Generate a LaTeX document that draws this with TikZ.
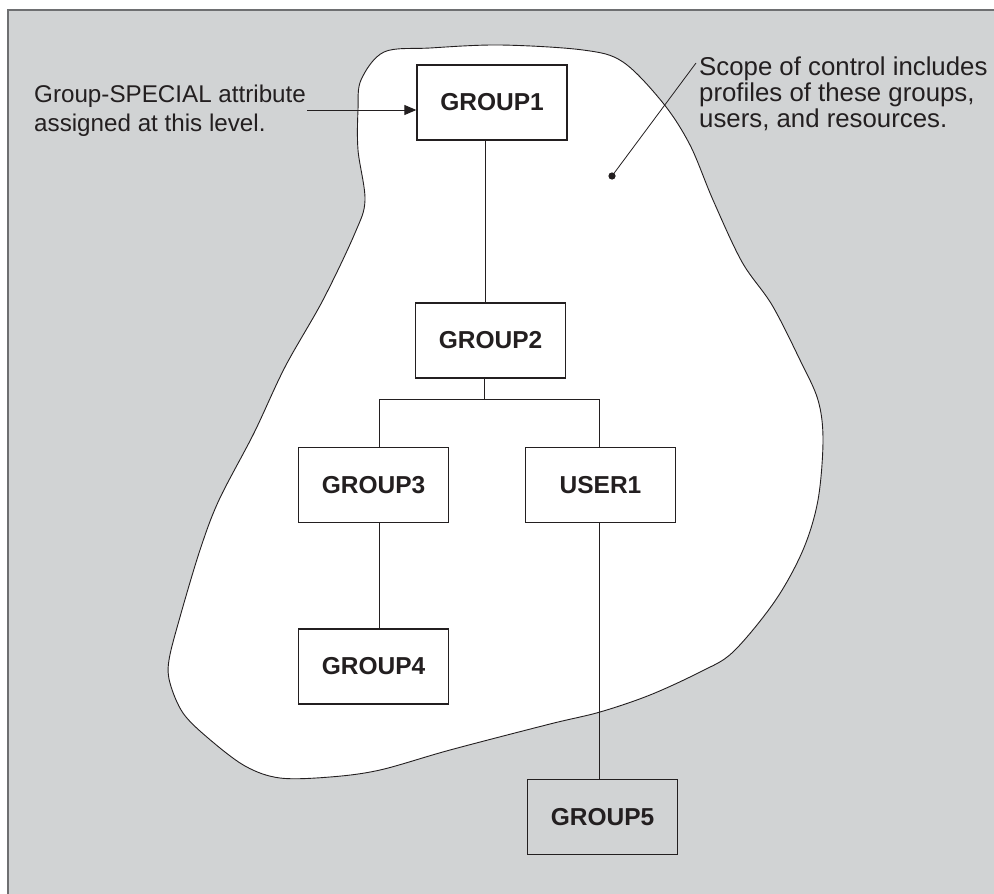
\documentclass[tikz,border=0pt]{standalone}
\usepackage{fontspec}
\setmainfont{Liberation Sans}
\usetikzlibrary{arrows.meta}
\definecolor{bggray}{RGB}{209,211,212}
\definecolor{ink}{RGB}{35,31,32}
\definecolor{framec}{RGB}{110,111,113}
\tikzset{
  boxnode/.style={draw=ink, line width=1.3pt, minimum width=150pt, minimum height=75pt, inner sep=0pt, font=\fontsize{24.5}{29}\selectfont\bfseries, text=ink},
  conn/.style={draw=ink, line width=0.9pt},
  note/.style={anchor=north west, inner sep=0pt, align=left, text=ink}
}
\begin{document}
\begin{tikzpicture}[x=1pt,y=-1pt]
\useasboundingbox (0,0) rectangle (994,894);
% background and frame
\fill[bggray] (8,10) rectangle (994,894);
\draw[framec, line width=1.6pt] (8,894) -- (8,10) -- (994,10);
% scope blob
\draw[ink, line width=0.9pt, fill=white] plot[smooth cycle, tension=0.55] coordinates {
 (361,80) (384,52) (430,48) (500,45) (583,50) (623,62) (663,103) (690,145) (713,200)
 (742,262) (772,305) (800,360) (818,400) (823,440) (818,500) (803,550) (775,601)
 (733,652) (700,672) (650,695) (600,712) (550,724) (450,750) (380,770) (330,777)
 (280,778) (245,766) (208,738) (183,713) (170,683) (169,660) (180,617) (200,550)
 (219,500) (254,433) (285,367) (323,300) (355,233) (365,200) (358,150) (358,110)
};
% boxes
\node[boxnode] (g1) at (492,102.5) {GROUP1};
\node[boxnode] (g2) at (490.5,340.5) {GROUP2};
\node[boxnode] (g3) at (373.5,485) {GROUP3};
\node[boxnode] (u1) at (600.5,485) {USER1};
\node[boxnode] (g4) at (373.5,666.5) {GROUP4};
\node[boxnode] (g5) at (602.5,817) {GROUP5};
% tree connectors
\coordinate (busL) at (379,399);
\coordinate (busR) at (599,399);
\draw[conn] ([xshift=-7pt]g1.south) -- ([xshift=-7pt]g1.south |- g2.north);
\draw[conn] ([xshift=-6.5pt]g2.south) -- ([xshift=-6.5pt]g2.south |- busL);
\draw[conn] (busL |- g3.north) -- (busL) -- (busR) -- (busR |- u1.north);
\draw[conn] (busL |- g3.south) -- (busL |- g4.north);
\draw[conn] (busR |- u1.south) -- (busR |- g5.north);
% annotations
\node[note, font=\fontsize{24.2}{29.5}\selectfont] (lt) at (34,84.5) {Group-SPECIAL attribute\\assigned at this level.};
\node[note, font=\fontsize{25.8}{26}\selectfont] (rt) at (699,57) {Scope of control includes\\profiles of these groups,\\users, and resources.};
\coordinate (arrS) at (307,110);
\draw[ink, line width=0.9pt, -{Triangle[length=12pt,width=10pt]}] (arrS) -- (arrS -| g1.west);
\coordinate (dot) at (612,176);
\coordinate (lead) at (696,63);
\draw[ink, line width=0.8pt] (dot) -- (lead);
\fill[ink] (dot) circle (3.6pt);
\end{tikzpicture}
\end{document}
